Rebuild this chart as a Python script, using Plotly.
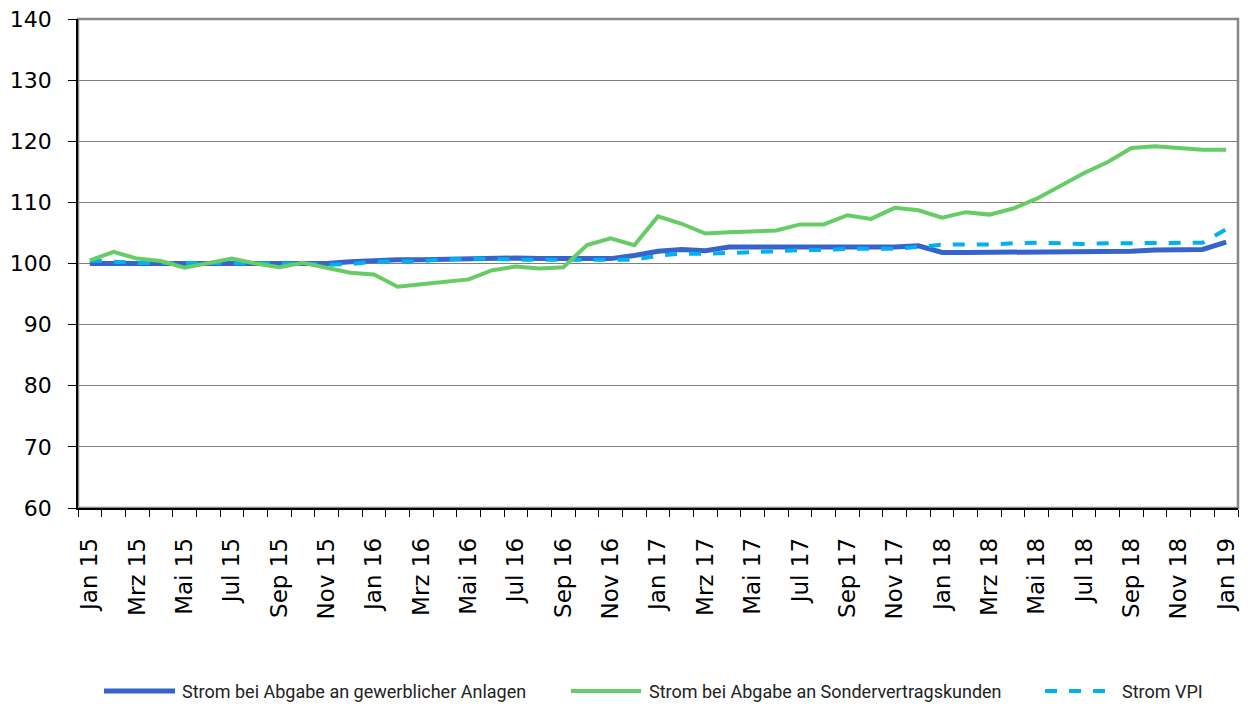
import plotly.graph_objects as go

month_names = ["Jan", "Feb", "Mrz", "Apr", "Mai", "Jun", "Jul", "Aug", "Sep", "Okt", "Nov", "Dez"]
months = [f"{month_names[i % 12]} {15 + i // 12}" for i in range(49)]

gewerblich = [
    100.0, 100.0, 99.9, 100.0, 100.0, 100.0, 100.0, 100.0, 100.0, 100.0, 100.0, 100.3,
    100.5, 100.6, 100.6, 100.7, 100.8, 100.8, 100.9, 100.8, 100.8, 100.8, 100.8, 101.3,
    102.0, 102.3, 102.1, 102.7, 102.7, 102.7, 102.7, 102.7, 102.6, 102.7, 102.7, 102.9,
    101.8, 101.8, 101.8, 102.0, 102.0, 102.0, 102.0, 102.0, 102.0, 102.2, 102.3, 102.3,
    103.5,
]
sonder = [
    100.5, 101.9, 100.8, 100.4, 99.3, 100.0, 100.8, 100.0, 99.4, 100.1, 99.3, 98.5,
    98.2, 96.2, 96.6, 97.0, 97.4, 98.9, 99.5, 99.2, 99.4, 103.0, 104.1, 103.0,
    107.7, 106.5, 104.9, 105.1, 105.2, 105.4, 106.4, 106.4, 107.9, 107.3, 109.1, 108.7,
    107.5, 108.4, 108.0, 109.0, 110.6, 112.7, 114.8, 116.6, 118.9, 119.2, 118.9, 118.6,
    118.6,
]
vpi = [
    100.5, 100.3, 100.1, 100.1, 100.1, 100.1, 100.1, 100.1, 100.1, 100.0, 99.8, 99.9,
    100.3, 100.3, 100.4, 100.7, 100.8, 100.8, 100.6, 100.6, 100.6, 100.5, 100.5, 100.6,
    101.3, 101.6, 101.6, 101.7, 101.8, 102.0, 102.2, 102.2, 102.4, 102.4, 102.4, 102.7,
    103.1, 103.1, 103.1, 103.3, 103.4, 103.3, 103.2, 103.3, 103.3, 103.3, 103.4, 103.4,
    105.6,
]
series_names = [
    "Strom bei Abgabe an gewerblicher Anlagen",
    "Strom bei Abgabe an Sondervertragskunden",
    "Strom VPI",
]

BLUE = "#3764CB"
GREEN = "#66CC66"
LIGHT = "#00B0F0"

x = list(range(len(months)))

fig = go.Figure()
fig.add_trace(go.Scatter(x=x, y=gewerblich, mode="lines", name=series_names[0],
                         line=dict(color=BLUE, width=5)))
fig.add_trace(go.Scatter(x=x, y=vpi, mode="lines", name=series_names[2],
                         line=dict(color=LIGHT, width=4, dash="12px,12px")))
fig.add_trace(go.Scatter(x=x, y=sonder, mode="lines", name=series_names[1],
                         line=dict(color=GREEN, width=4)))

# page has an 8px body margin; figure is sized so it fits the 1248x706 window
OFF = 8
W, H = 1240, 698
# plot area in page pixels: left 78, right 1238, top 19, bottom 508
L = 78 - OFF
T = 19 - OFF
R = W - (1238 - OFF)
B = H - (508 - OFF)
pw, ph = W - L - R, H - T - B

def px(xpage):
    return (xpage - OFF - L) / pw

def py(ypage):
    return (H - B - (ypage - OFF)) / ph

# frame
fig.add_shape(type="rect", xref="paper", yref="paper", x0=0, x1=1, y0=0, y1=1,
              line=dict(color="#878787", width=2.5), layer="below")

# manual legend
leg_y = py(691)
legend_items = [
    (104, 175, BLUE, 5, "solid", 180, series_names[0]),
    (571, 641, GREEN, 4, "solid", 647, series_names[1]),
    (1045, 1114, LIGHT, 4, "12px,12px", 1120, series_names[2]),
]
for x0, x1, col, wdt, dash, tx, label in legend_items:
    fig.add_shape(type="line", xref="paper", yref="paper", x0=px(x0), x1=px(x1),
                  y0=leg_y, y1=leg_y, line=dict(color=col, width=wdt, dash=dash))
    fig.add_annotation(xref="paper", yref="paper", x=px(tx), y=leg_y, text=label,
                       showarrow=False, xanchor="left", yanchor="middle",
                       font=dict(family="Liberation Sans Narrow, Roboto, sans-serif",
                                 size=18, color="#222222"))

fig.update_layout(
    width=W, height=H,
    margin=dict(l=L, r=R, t=T, b=B, autoexpand=False),
    paper_bgcolor="white", plot_bgcolor="white",
    showlegend=False,
    font=dict(family="DejaVu Sans, Verdana, sans-serif", color="black"),
)
fig.update_xaxes(
    range=[-0.5, len(months) - 0.5], automargin=False,
    tickmode="array", tickvals=x[::2], ticktext=months[::2],
    tickangle=-90, tickfont=dict(size=23),
    ticks="", showgrid=False, zeroline=False,
    showline=True, linecolor="black", linewidth=1.5,
    ticklabelstandoff=19, ticklabeloverflow="allow",
    minor=dict(tickmode="array", tickvals=[i - 0.5 for i in range(len(months) + 1)],
               ticks="outside", ticklen=7, tickcolor="black", tickwidth=1, showgrid=False),
)
fig.update_yaxes(
    range=[60, 140], tickmode="linear", tick0=60, dtick=10, automargin=False,
    tickfont=dict(size=22),
    ticks="outside", ticklen=8, tickcolor="black", tickwidth=1,
    showgrid=True, gridcolor="#808080", gridwidth=1, zeroline=False,
    showline=True, linecolor="black", linewidth=1.5,
    ticklabelstandoff=12, ticklabeloverflow="allow",
)

fig.write_html("out.html")
